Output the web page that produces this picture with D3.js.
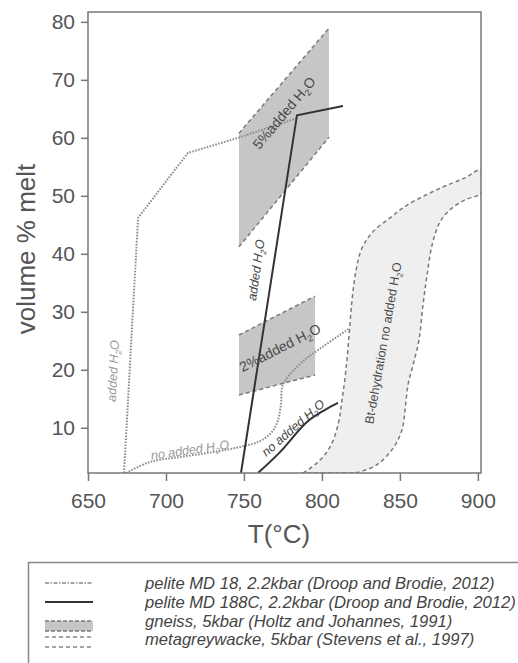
<!DOCTYPE html>
<html><head><meta charset="utf-8">
<script src="https://cdn.jsdelivr.net/npm/d3@7"></script>
<style>
html,body{margin:0;padding:0;background:#fff;}
svg{display:block;font-family:"Liberation Sans",Arial,Helvetica,sans-serif;}
</style></head>
<body>
<svg id="chart" width="518" height="663"></svg>
<script>
// ---------------- data ----------------
const xTicks = [650, 700, 750, 800, 850, 900];
const yTicks = [10, 20, 30, 40, 50, 60, 70, 80];

// pelite MD 18 (dotted), added H2O branch
const md18AddedT = [673.1, 682.1, 714.1, 747.5, 784.0];
const md18AddedV = [2.2, 46.2, 57.4, 60.1, 63.4];
// pelite MD 18, no added H2O branch
const md18DryT = [674.4, 689.8, 709.0, 730.2, 747.5, 760.3, 768.0, 771.8, 773.8, 775.0, 785.9, 797.5, 818.0];
const md18DryV = [2.2, 4.1, 4.96, 5.8, 6.7, 7.7, 9.3, 11.3, 14.3, 17.4, 21.0, 23.4, 27.2];

// pelite MD 188C (solid), added H2O
const md188AddedT = [748.1, 784.0, 813.5];
const md188AddedV = [2.2, 63.9, 65.5];
// pelite MD 188C, no added H2O
const md188DryT = [759.0, 773.1, 790.4, 802.0, 810.3];
const md188DryV = [2.2, 5.8, 11.0, 13.1, 14.3];

// gneiss 5kbar (Holtz & Johannes) bands
const gneiss5T = [746.8, 804.5];
const gneiss5Low = [41.2, 60.1];
const gneiss5High = [60.8, 78.9];
const gneiss2T = [746.8, 795.6];
const gneiss2Low = [15.65, 19.1];
const gneiss2High = [26.0, 32.7];

// metagreywacke 5kbar (Stevens et al.) field
const mgwLeftT = [787.9, 797.5, 805.2, 810.3, 812.9, 815.4, 817.4, 819.3, 821.9, 825.7, 832.7, 843.7, 854.6, 875.7, 891.7, 902.0];
const mgwLeftV = [2.2, 4.1, 6.7, 10.5, 14.8, 20.0, 26.0, 32.0, 37.2, 41.0, 43.8, 46.2, 48.4, 51.3, 53.1, 54.45];
const mgwRightT = [902.0, 891.7, 882.1, 875.7, 870.6, 867.4, 864.8, 862.2, 858.4, 855.2, 853.3, 851.3, 844.9, 834.0, 821.2];
const mgwRightV = [50.5, 49.3, 47.6, 45.5, 41.5, 36.3, 31.2, 25.1, 20.8, 17.4, 13.1, 9.6, 6.2, 3.4, 2.2];

const legendLabels = [
  "pelite MD 18, 2.2kbar (Droop and Brodie, 2012)",
  "pelite MD 188C, 2.2kbar (Droop and Brodie, 2012)",
  "gneiss, 5kbar (Holtz and Johannes, 1991)",
  "metagreywacke, 5kbar (Stevens et al., 1997)"
];

// ---------------- drawing ----------------
const svg = d3.select("#chart");
const plot = {left: 88, top: 12, right: 481, bottom: 473};

const x = d3.scaleLinear().domain([650, 902]).range([plot.left, plot.right]);
const y = d3.scaleLinear().domain([2.2, 81.7]).range([plot.bottom, plot.top]);

const zip = (ts, vs) => ts.map((t, i) => [t, vs[i]]);
const lineLin = d3.line().x(d => x(d[0])).y(d => y(d[1]));
const lineCurve = d3.line().x(d => x(d[0])).y(d => y(d[1])).curve(d3.curveCatmullRom.alpha(0.5));

svg.append("defs").append("clipPath").attr("id", "clip")
  .append("rect").attr("x", plot.left).attr("y", plot.top)
  .attr("width", plot.right - plot.left).attr("height", plot.bottom - plot.top);

const g = svg.append("g").attr("clip-path", "url(#clip)");

// metagreywacke field
const mgwPts = zip(mgwLeftT, mgwLeftV).concat(zip(mgwRightT, mgwRightV));
g.append("path").attr("d", lineCurve(mgwPts) + "Z")
  .attr("fill", "#efefef").attr("stroke", "#7a7a7a")
  .attr("stroke-width", 1.5).attr("stroke-dasharray", "4,3");

// gneiss bands
function band(ts, lo, hi) {
  const poly = [[ts[0], lo[0]], [ts[1], lo[1]], [ts[1], hi[1]], [ts[0], hi[0]]];
  g.append("path").attr("d", lineLin(poly) + "Z").attr("fill", "#c6c6c6").attr("stroke", "none");
  [lo, hi].forEach(v => {
    g.append("path").attr("d", lineLin(zip(ts, v)))
      .attr("fill", "none").attr("stroke", "#7a7a7a")
      .attr("stroke-width", 1.5).attr("stroke-dasharray", "4,3");
  });
}
band(gneiss5T, gneiss5Low, gneiss5High);
band(gneiss2T, gneiss2Low, gneiss2High);

// pelite MD 18 dotted
const dotStyle = p => p.attr("fill", "none").attr("stroke", "#8c8c8c")
  .attr("stroke-width", 2).attr("stroke-dasharray", "1.6,1.4");
g.append("path").attr("d", lineLin(zip(md18AddedT, md18AddedV))).call(dotStyle);
g.append("path").attr("d", lineCurve(zip(md18DryT, md18DryV))).call(dotStyle);

// pelite MD 188C solid
g.append("path").attr("d", lineLin(zip(md188AddedT, md188AddedV)))
  .attr("fill", "none").attr("stroke", "#333").attr("stroke-width", 2);
g.append("path").attr("d", lineCurve(zip(md188DryT, md188DryV)))
  .attr("fill", "none").attr("stroke", "#333").attr("stroke-width", 2);

// annotations
function label(T, V, angle, prefix, opts) {
  const t = svg.append("text")
    .attr("transform", `translate(${x(T)},${y(V)}) rotate(${angle})`)
    .attr("text-anchor", "middle").attr("dy", "0.35em")
    .attr("font-size", opts.size).attr("fill", opts.color)
    .attr("font-style", opts.italic ? "italic" : "normal");
  t.append("tspan").text(prefix + "H");
  t.append("tspan").text("2").attr("font-size", opts.size * 0.65).attr("dy", opts.size * 0.25);
  t.append("tspan").text("O").attr("dy", -opts.size * 0.25);
}
const grayLab = {size: 12.5, color: "#999", italic: true};
const darkLab = {size: 12.5, color: "#444", italic: true};
label(666.0, 19.8, -87, "added ", grayLab);
label(715.4, 6.2, -8, "no added ", grayLab);
label(757.7, 37.2, -82, "added ", darkLab);
label(781.5, 10.0, -41, "no added ", darkLab);
label(775.7, 64.3, -50, "5%added ", {size: 14, color: "#4a4a4a", italic: false});
label(773.1, 23.8, -27, "2%added ", {size: 14, color: "#4a4a4a", italic: false});
label(839.2, 24.6, -80, "Bt-dehydration no added ", {size: 12.5, color: "#4a4a4a", italic: false});

// frame
svg.append("rect").attr("x", plot.left).attr("y", plot.top)
  .attr("width", plot.right - plot.left).attr("height", plot.bottom - plot.top)
  .attr("fill", "none").attr("stroke", "#777").attr("stroke-width", 1.5);

// axes
const xAxis = svg.append("g").attr("transform", `translate(0,${plot.bottom})`)
  .call(d3.axisBottom(x).tickValues(xTicks).tickSize(8).tickPadding(12).tickFormat(d3.format("d")));
const yAxis = svg.append("g").attr("transform", `translate(${plot.left},0)`)
  .call(d3.axisLeft(y).tickValues(yTicks).tickSize(7).tickPadding(6).tickFormat(d3.format("d")));
[xAxis, yAxis].forEach(a => {
  a.select(".domain").remove();
  a.selectAll(".tick line").attr("stroke", "#777").attr("stroke-width", 1.5);
  a.selectAll(".tick text").attr("fill", "#555").attr("font-size", 21)
    .attr("font-family", "'Liberation Sans',Arial,sans-serif");
});

svg.append("text").attr("x", 279).attr("y", 543).attr("text-anchor", "middle")
  .attr("font-size", 26).attr("fill", "#555").text("T(°C)");
svg.append("text").attr("transform", "translate(35,249) rotate(-90)")
  .attr("text-anchor", "middle").attr("font-size", 26).attr("fill", "#555").text("volume % melt");

// legend
const lg = svg.append("g");
lg.append("rect").attr("x", 28.5).attr("y", 562.5).attr("width", 520).attr("height", 120)
  .attr("fill", "none").attr("stroke", "#888").attr("stroke-width", 1.5);
const rowY = [583, 602, 621, 639];
const sx0 = 45, sx1 = 93;
lg.append("line").attr("x1", sx0).attr("x2", sx1).attr("y1", rowY[0]).attr("y2", rowY[0])
  .attr("stroke", "#888").attr("stroke-width", 1.5).attr("stroke-dasharray", "4,1.5,1.5,1.5");
lg.append("line").attr("x1", sx0).attr("x2", sx1).attr("y1", rowY[1]).attr("y2", rowY[1])
  .attr("stroke", "#333").attr("stroke-width", 2.2);
lg.append("rect").attr("x", sx0).attr("y", rowY[2]).attr("width", sx1 - sx0).attr("height", 10)
  .attr("fill", "#c6c6c6");
[rowY[2], rowY[2] + 10].forEach(yy => lg.append("line").attr("x1", sx0).attr("x2", sx1)
  .attr("y1", yy).attr("y2", yy).attr("stroke", "#7a7a7a").attr("stroke-width", 1.3).attr("stroke-dasharray", "4,2"));
[rowY[3] - 2, rowY[3] + 8].forEach(yy => lg.append("line").attr("x1", sx0).attr("x2", sx1)
  .attr("y1", yy).attr("y2", yy).attr("stroke", "#888").attr("stroke-width", 1.3).attr("stroke-dasharray", "4,3"));
legendLabels.forEach((s, i) => {
  lg.append("text").attr("x", 145).attr("y", rowY[i]).attr("dy", "0.35em")
    .attr("font-size", 16.6).attr("font-style", "italic").attr("fill", "#444").text(s);
});
</script>
</body></html>
